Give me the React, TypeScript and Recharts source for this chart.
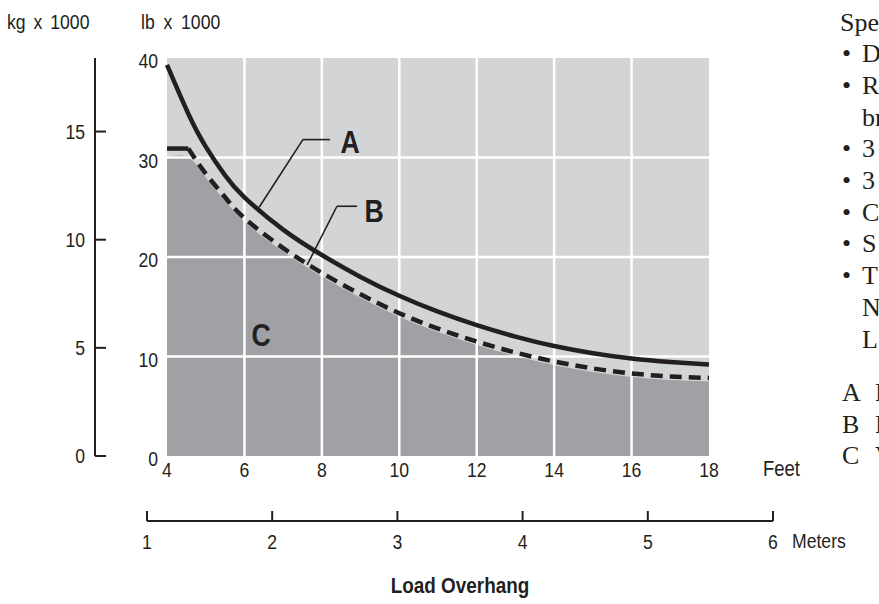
import React from 'react';
import {
  ComposedChart, LineChart, Line, Area, XAxis, YAxis, CartesianGrid,
  ReferenceLine, ReferenceDot,
} from 'recharts';

// ---------- data ----------
const feet = [4, 4.55, 5, 5.5, 6, 7, 8, 9, 10, 11, 12, 13, 14, 15, 16, 17, 18];
const curveA = [39.3, 34.4, 31.1, 28.2, 26.0, 22.75, 20.2, 18.0, 16.1, 14.5, 13.15, 12.0, 11.05, 10.33, 9.8, 9.45, 9.2];
const curveBFlat = [30.9, 30.9, null, null, null, null, null, null, null, null, null, null, null, null, null, null, null];
const curveB = [null, 30.9, 28.38, 26.0, 23.9, 20.9, 18.4, 16.25, 14.35, 12.8, 11.5, 10.4, 9.5, 8.8, 8.3, 8.0, 7.85];
const areaC = [30.0, 30.0, 28.0, 25.65, 23.55, 20.55, 18.05, 15.9, 14.0, 12.45, 11.15, 10.05, 9.15, 8.45, 7.95, 7.65, 7.5];

const feetTicks = [4, 6, 8, 10, 12, 14, 16, 18];
const lbTicks = [0, 10, 20, 30, 40];
const kgTicks = [0, 5, 10, 15];
const meterTicks = [1, 2, 3, 4, 5, 6];
const gridX = [6, 8, 10, 12, 14, 16];
const gridY = [10, 20, 30];

const leaderA = [{ x: 6.38, y: 25.0 }, { x: 7.51, y: 31.8 }, { x: 8.21, y: 31.8 }];
const leaderB = [{ x: 7.62, y: 19.2 }, { x: 8.39, y: 25.1 }, { x: 8.91, y: 25.1 }];
const labelPos = [
  { name: 'A', x: 8.73, y: 31.6 },
  { name: 'B', x: 9.35, y: 24.6 },
  { name: 'C', x: 6.43, y: 12.2 },
];

const sideLines = ['Spe', '•', '•', '', '•', '•', '•', '•', '•', '', ''];
const sideWords = ['', 'D', 'R', 'br', '3', '3', 'C', 'S', 'T', 'N', 'L'];
const keyLetters = ['A', 'B', 'C'];
const keyWords = ['L', 'L', 'V'];

const data = feet.map((f, i) => ({
  ft: f,
  a: curveA[i],
  bFlat: curveBFlat[i],
  b: curveB[i],
  c: areaC[i],
}));
const meterData = meterTicks.map((m) => ({ m, v: 0 }));

// ---------- styles ----------
const INK = '#231f20';
const LIGHT = '#d3d4d6';
const DARK = '#a0a1a4';
const SANS = "'Liberation Sans', Arial, sans-serif";
const SERIF = "'Liberation Serif', 'DejaVu Serif', serif";
const SQUEEZE = 0.86;
const TICK_SIZE = 20.5;
const LB = 'a_lb';
const KG = 'b_kg';

const NText = (props: any) => {
  const { x, y, anchor = 'middle', size = TICK_SIZE, weight = 400, dy = '0', children, wordSpacing } = props;
  return (
    <text
      transform={`translate(${x},${y}) scale(${SQUEEZE},1)`}
      x={0} y={0} dy={dy}
      textAnchor={anchor} fontSize={size} fontWeight={weight} fontFamily={SANS} fill={INK}
      style={wordSpacing ? { wordSpacing: wordSpacing + 'px', whiteSpace: 'pre' } : undefined}
    >
      {children}
    </text>
  );
};

const KgTick = (props: any) => {
  const { x, y, payload } = props;
  return (
    <g>
      <line x1={x + 10} x2={x + 21} y1={y} y2={y} stroke={INK} strokeWidth={2} />
      <NText x={x} y={y} dy="0.36em" anchor="end">{payload.value}</NText>
    </g>
  );
};

const LbTick = (props: any) => {
  const { x, y, payload } = props;
  return <NText x={x} y={y + 3} dy="0.36em" anchor="end">{payload.value}</NText>;
};

const FeetTick = (props: any) => {
  const { x, y, payload } = props;
  return <NText x={x} y={y} dy="0.71em" anchor="middle">{payload.value}</NText>;
};

const MeterTick = (props: any) => {
  const { x, y, payload } = props;
  return (
    <g>
      <line x1={x} x2={x} y1={y - 13} y2={y - 23} stroke={INK} strokeWidth={2} />
      <NText x={x} y={y} dy="0.71em" anchor="middle">{payload.value}</NText>
    </g>
  );
};

const BigLabel = (name: string) => (p: any) => {
  const vb = p.viewBox || {};
  const cx = (vb.x || 0) + (vb.width || 0) / 2;
  const cy = (vb.y || 0) + (vb.height || 0) / 2;
  return <NText x={cx} y={cy} dy="0.36em" anchor="middle" size={31} weight={700}>{name}</NText>;
};

export default function App() {
  return (
    <div style={{ position: 'absolute', left: 0, top: 0, width: 879, height: 604, overflow: 'hidden', background: '#fff' }}>
      <div style={{ position: 'absolute', left: 0, top: 0 }}>
        <ComposedChart width={879} height={604} data={data} margin={{ top: 58, right: 170, bottom: 118, left: 55 }}>
          <CartesianGrid yAxisId={LB} fill={LIGHT} stroke="transparent" horizontal={false} vertical={false} />
          <XAxis
            dataKey="ft" type="number" domain={[4, 18]} ticks={feetTicks} height={30}
            axisLine={false} tickLine={false} tickSize={0} tickMargin={6}
            tick={(p: any) => <FeetTick {...p} />} interval={0}
          />
          <YAxis
            yAxisId={LB} type="number" domain={[0, 40]} ticks={lbTicks} width={72}
            axisLine={false} tickLine={false} tickSize={0} tickMargin={9}
            tick={(p: any) => <LbTick {...p} />} interval={0}
          />
          <YAxis
            yAxisId={KG} type="number" domain={[0, 18.4]} ticks={kgTicks} width={40}
            axisLine={{ stroke: INK, strokeWidth: 2 }} tickLine={false} tickSize={0} tickMargin={10}
            tick={(p: any) => <KgTick {...p} />} interval={0} allowDataOverflow
          />
          <Line yAxisId={KG} dataKey="c" stroke="none" dot={false} activeDot={false} isAnimationActive={false} />
          <Area yAxisId={LB} dataKey="c" type="natural" fill={DARK} fillOpacity={1} stroke="none" isAnimationActive={false} />
          {gridX.map((g) => (
            <ReferenceLine key={'gx' + g} yAxisId={LB} x={g} stroke="#ffffff" strokeWidth={2.5} />
          ))}
          {gridY.map((g) => (
            <ReferenceLine key={'gy' + g} yAxisId={LB} y={g} stroke="#ffffff" strokeWidth={2.5} />
          ))}
          <ReferenceLine yAxisId={LB} segment={[leaderA[0], leaderA[1]]} stroke={INK} strokeWidth={1.6} ifOverflow="visible" />
          <ReferenceLine yAxisId={LB} segment={[leaderA[1], leaderA[2]]} stroke={INK} strokeWidth={1.6} ifOverflow="visible" />
          <ReferenceLine yAxisId={LB} segment={[leaderB[0], leaderB[1]]} stroke={INK} strokeWidth={1.6} ifOverflow="visible" />
          <ReferenceLine yAxisId={LB} segment={[leaderB[1], leaderB[2]]} stroke={INK} strokeWidth={1.6} ifOverflow="visible" />
          {labelPos.map((l) => (
            <ReferenceDot
              key={l.name} yAxisId={LB} x={l.x} y={l.y} r={1} fill="none" stroke="none"
              label={{ content: BigLabel(l.name) }}
            />
          ))}
          <Line yAxisId={LB} dataKey="a" type="natural" stroke={INK} strokeWidth={4.5} dot={false} isAnimationActive={false} />
          <Line yAxisId={LB} dataKey="bFlat" type="linear" stroke={INK} strokeWidth={4.5} dot={false} isAnimationActive={false} />
          <Line yAxisId={LB} dataKey="b" type="natural" stroke={INK} strokeWidth={4.5} strokeDasharray="12 7" dot={false} isAnimationActive={false} />
        </ComposedChart>
      </div>
      <div style={{ position: 'absolute', left: 0, top: 0 }}>
        <LineChart width={879} height={604} data={meterData} margin={{ top: 0, right: 106, bottom: 43, left: 147 }}>
          <XAxis
            dataKey="m" type="number" domain={[1, 6]} ticks={meterTicks} height={40} interval={0}
            axisLine={{ stroke: INK, strokeWidth: 2 }} tickLine={false} tickSize={0} tickMargin={13}
            tick={(p: any) => <MeterTick {...p} />}
          />
          <YAxis hide domain={[0, 1]} />
          <Line dataKey="v" stroke="none" dot={false} isAnimationActive={false} />
        </LineChart>
      </div>
      <svg width={879} height={604} style={{ position: 'absolute', left: 0, top: 0, pointerEvents: 'none' }}>
        <NText x={7} y={29} anchor="start" wordSpacing={3.5}>kg x 1000</NText>
        <NText x={141} y={29} anchor="start" wordSpacing={4.5}>lb x 1000</NText>
        <NText x={763} y={476} anchor="start" size={21.5}>Feet</NText>
        <NText x={792} y={548} anchor="start" size={20.5}>Meters</NText>
        <NText x={460} y={593} anchor="middle" size={22} weight={700}>Load Overhang</NText>
        {sideLines.map((s, i) => (
          <text key={'s' + i} x={i === 0 ? 840 : 842} y={30.5 + 31.7 * i} fontSize={26} fontFamily={SERIF} fill={INK}>{s}</text>
        ))}
        {sideWords.map((s, i) => (
          <text key={'w' + i} x={862} y={30.5 + 31.7 * i} fontSize={26} fontFamily={SERIF} fill={INK}>{s}</text>
        ))}
        {keyLetters.map((s, i) => (
          <text key={'k' + i} x={842} y={401 + 31.7 * i} fontSize={26} fontFamily={SERIF} fill={INK}>{s}</text>
        ))}
        {keyWords.map((s, i) => (
          <text key={'kw' + i} x={875} y={401 + 31.7 * i} fontSize={26} fontFamily={SERIF} fill={INK}>{s}</text>
        ))}
      </svg>
    </div>
  );
}
